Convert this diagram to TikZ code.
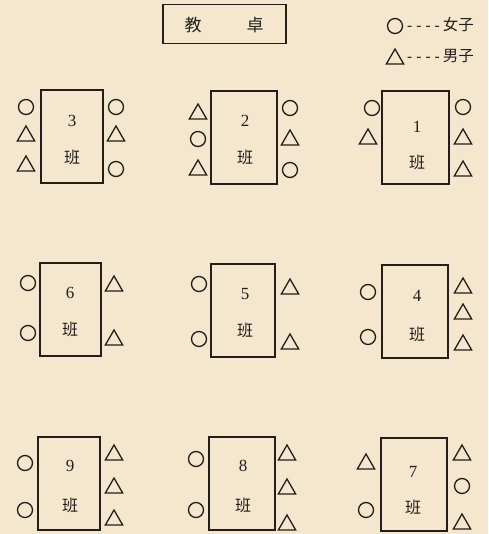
\documentclass[tikz,border=0pt]{standalone}
\usepackage{fontspec}
\setmainfont{Liberation Serif}
\newfontfamily\cjk{Noto Sans CJK SC}
\usetikzlibrary{shapes.geometric}
\definecolor{paper}{RGB}{245,231,206}
\definecolor{ink}{RGB}{35,30,28}
\begin{document}
\begin{tikzpicture}[x=1pt,y=-1pt,
  deskbox/.style={draw=ink, line width=2pt, inner sep=0pt, minimum width=62pt, minimum height=93pt},
  girl/.style={circle, draw=ink, line width=1.3pt, minimum size=15pt, inner sep=0pt},
  boy/.style={regular polygon, regular polygon sides=3, draw=ink, line width=1.3pt, minimum size=20pt, inner sep=0pt},
  numlab/.style={text=ink, font=\fontsize{17}{17}\selectfont, inner sep=0pt},
  banlab/.style={text=ink, font=\cjk\fontsize{16}{16}\selectfont, inner sep=0pt},
  cjklab/.style={text=ink, font=\cjk\fontsize{17}{17}\selectfont, inner sep=0pt},
  leglab/.style={text=ink, font=\cjk\fontsize{15.5}{15.5}\selectfont, inner sep=0pt, anchor=west}]
\useasboundingbox (0,0) rectangle (488,534);
\fill[paper] (0,0) rectangle (488,534);

% teacher desk
\node[draw=ink, line width=1.6pt, minimum width=123pt, minimum height=39pt, inner sep=0pt] (teacher) at (224.5,24) {};
\node[cjklab] (jiao) at (193,25) {教};
\node[cjklab] (zhuo) at (255,25) {卓};

% legend
\node[girl] (lgirl) at (395,26) {};
\node[leglab] (lgirltext) at (407,25) {{\rmfamily -\kern4pt-\kern4pt-\kern4pt-\kern3pt}女子};
\node[boy] (lboy) at (395,59) {};
\node[leglab] (lboytext) at (407,56) {{\rmfamily -\kern4pt-\kern4pt-\kern4pt-\kern3pt}男子};

% row 1
\node[deskbox] (d3) at (71.5,136.5) {};
\node[numlab] (n3) at (72,121) {3};
\node[banlab] (b3) at (72,157) {班};
\node[girl] (d3l1) at (26,107) {};
\node[boy]  (d3l2) at (26,136) {};
\node[boy]  (d3l3) at (26,166) {};
\node[girl] (d3r1) at (116,107) {};
\node[boy]  (d3r2) at (116,136) {};
\node[girl] (d3r3) at (116,169) {};

\node[deskbox, minimum width=66pt] (d2) at (244,137.5) {};
\node[numlab] (n2) at (245,121) {2};
\node[banlab] (b2) at (245,157) {班};
\node[boy]  (d2l1) at (198,114) {};
\node[girl] (d2l2) at (198,139) {};
\node[boy]  (d2l3) at (198,170) {};
\node[girl] (d2r1) at (290,108) {};
\node[boy]  (d2r2) at (290,140) {};
\node[girl] (d2r3) at (290,170) {};

\node[deskbox, minimum width=67pt] (d1) at (415.5,138) {};
\node[numlab] (n1) at (417,127) {1};
\node[banlab] (b1) at (417,162) {班};
\node[girl] (d1l1) at (372,108) {};
\node[boy]  (d1l2) at (368,139) {};
\node[girl] (d1r1) at (463,107) {};
\node[boy]  (d1r2) at (463,139) {};
\node[boy]  (d1r3) at (463,171) {};

% row 2
\node[deskbox, minimum width=61pt] (d6) at (70.5,309) {};
\node[numlab] (n6) at (70,293) {6};
\node[banlab] (b6) at (70,329) {班};
\node[girl] (d6l1) at (28,283) {};
\node[girl] (d6l2) at (28,333) {};
\node[boy]  (d6r1) at (114,286) {};
\node[boy]  (d6r2) at (114,340) {};

\node[deskbox, minimum width=64pt] (d5) at (243,310.5) {};
\node[numlab] (n5) at (245,294) {5};
\node[banlab] (b5) at (245,330) {班};
\node[girl] (d5l1) at (199,284) {};
\node[girl] (d5l2) at (199,339) {};
\node[boy]  (d5r1) at (290,289) {};
\node[boy]  (d5r2) at (290,344) {};

\node[deskbox, minimum width=66pt] (d4) at (415,311) {};
\node[numlab] (n4) at (417,296) {4};
\node[banlab] (b4) at (417,334) {班};
\node[girl] (d4l1) at (368,292) {};
\node[girl] (d4l2) at (368,337) {};
\node[boy]  (d4r1) at (463,288) {};
\node[boy]  (d4r2) at (463,314) {};
\node[boy]  (d4r3) at (463,345) {};

% row 3
\node[deskbox] (d9) at (69,483) {};
\node[numlab] (n9) at (70,466) {9};
\node[banlab] (b9) at (70,505) {班};
\node[girl] (d9l1) at (25,463) {};
\node[girl] (d9l2) at (25,510) {};
\node[boy]  (d9r1) at (114,455) {};
\node[boy]  (d9r2) at (114,488) {};
\node[boy]  (d9r3) at (114,520) {};

\node[deskbox, minimum width=66pt] (d8) at (242,483.5) {};
\node[numlab] (n8) at (243,466) {8};
\node[banlab] (b8) at (243,505) {班};
\node[girl] (d8l1) at (196,459) {};
\node[girl] (d8l2) at (196,510) {};
\node[boy]  (d8r1) at (287,455) {};
\node[boy]  (d8r2) at (287,489) {};
\node[boy]  (d8r3) at (287,525) {};

\node[deskbox, minimum width=66pt] (d7) at (414,484) {};
\node[numlab] (n7) at (413,472) {7};
\node[banlab] (b7) at (413,507) {班};
\node[boy]  (d7l1) at (366,464) {};
\node[girl] (d7l2) at (366,510) {};
\node[boy]  (d7r1) at (462,455) {};
\node[girl] (d7r2) at (462,486) {};
\node[boy]  (d7r3) at (462,524) {};
\end{tikzpicture}
\end{document}
